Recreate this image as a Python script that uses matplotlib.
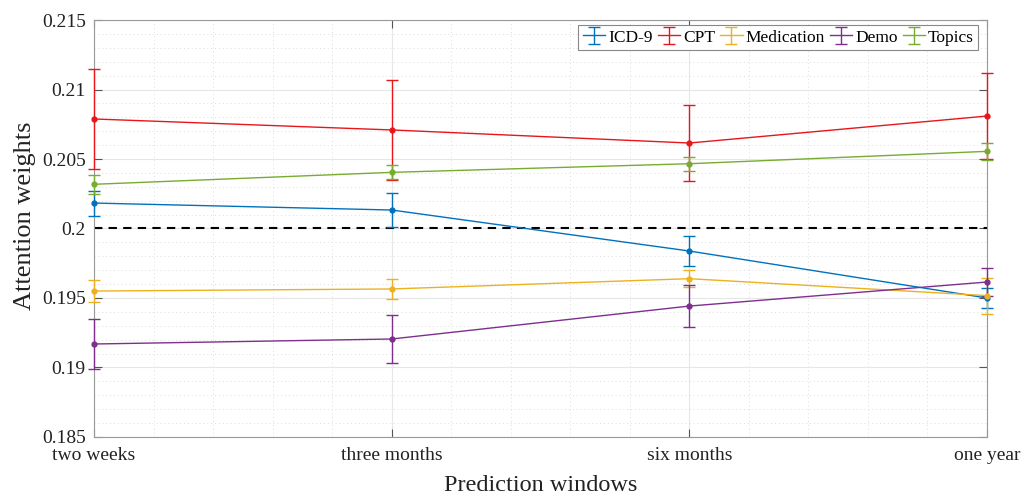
import numpy as np
import matplotlib.pyplot as plt
from matplotlib.ticker import MultipleLocator

# ventanas de prediccion
windows = ['two weeks', 'three months', 'six months', 'one year']

# valores medios
icd9 = [0.20183, 0.20133, 0.19838, 0.19500]
cpt = [0.20788, 0.20709, 0.20615, 0.20809]
medication = [0.19550, 0.19565, 0.19639, 0.19517]
demo = [0.19169, 0.19205, 0.19442, 0.19615]
topics = [0.20318, 0.20404, 0.20466, 0.20555]

# barras de error
icd9_err = [0.0009, 0.0012, 0.0011, 0.0007]
cpt_err = [0.0036, 0.0036, 0.0027, 0.0031]
medication_err = [0.0008, 0.0007, 0.0006, 0.0013]
demo_err = [0.0018, 0.0017, 0.0015, 0.0010]
topics_err = [0.0007, 0.0005, 0.0005, 0.0006]

baseline = 0.2

plt.rcParams['font.family'] = ['Liberation Serif', 'DejaVu Serif']

fig = plt.figure(figsize=(10.21, 4.94), dpi=100)
ax = fig.add_axes([0.0921, 0.1154, 0.8746, 0.8441])

x = np.arange(len(windows))
series = [
    ('ICD-9', icd9, icd9_err, '#0072BD'),
    ('CPT', cpt, cpt_err, '#E8161B'),
    ('Medication', medication, medication_err, '#EDB120'),
    ('Demo', demo, demo_err, '#7E2F8E'),
    ('Topics', topics, topics_err, '#77AC30'),
]
for name, vals, err, col in series:
    ax.errorbar(x, vals, yerr=err, color=col, lw=1.0, elinewidth=1.0,
                capsize=4, capthick=1.0, label=name, clip_on=False, zorder=3)
    # puntos sin etiqueta para que la leyenda no los muestre
    ax.plot(x, vals, 'o', color=col, ms=3.5, clip_on=False, zorder=4)

ax.plot([x[0], x[-1]], [baseline, baseline], 'k--', lw=1.5, dashes=(4, 3), zorder=2)

ax.set_xlim(0, 3)
ax.set_ylim(0.185, 0.215)
ax.set_xticks(x)
ax.set_xticklabels(windows)
ax.set_yticks([0.185, 0.19, 0.195, 0.2, 0.205, 0.21, 0.215])
ax.set_yticklabels(['0.185', '0.19', '0.195', '0.2', '0.205', '0.21', '0.215'])
ax.xaxis.set_minor_locator(MultipleLocator(0.2))
ax.yaxis.set_minor_locator(MultipleLocator(0.001))

ax.grid(True, which='major', color='#e6e6e6', lw=0.8)
ax.grid(True, which='minor', color='#dddddd', lw=0.7, ls=(0, (1, 3)))
ax.set_axisbelow(True)

ax.tick_params(which='both', direction='in', top=True, right=True,
               colors='#555555', labelcolor='#222222', labelsize=14)
ax.tick_params(which='major', length=6)
ax.tick_params(which='minor', length=0)
ax.tick_params(axis='x', pad=7)
ax.tick_params(axis='y', pad=6)
for s in ax.spines.values():
    s.set_color('#999999')
    s.set_linewidth(0.8)

ax.set_xlabel('Prediction windows', fontsize=17.5, color='#222222', labelpad=8)
ax.set_ylabel('Attention weights', fontsize=19, color='#222222', labelpad=4)
ax.yaxis.label.set_y(0.53)

leg = ax.legend(loc='upper right', ncol=5, fontsize=12.5, frameon=True,
                fancybox=False, edgecolor='#888888', framealpha=1,
                handlelength=1.3, handletextpad=0.15, columnspacing=0.3,
                borderpad=0.25, borderaxespad=0,
                bbox_to_anchor=(0.99, 0.988))
leg.get_frame().set_linewidth(0.8)

fig.savefig('out.png', dpi=100)
